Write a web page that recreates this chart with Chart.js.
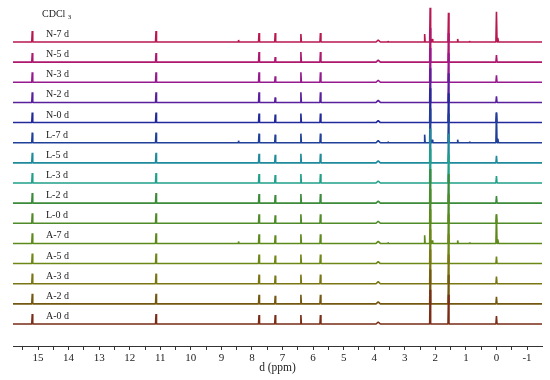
<!DOCTYPE html>
<html>
<head>
<meta charset="utf-8">
<script src="https://cdn.jsdelivr.net/npm/chart.js"></script>
<style>
    html, body { margin: 0; padding: 0; background: #ffffff; }
    #wrap { width: 550px; height: 380px; }
</style>
</head>
<body>
<div id="wrap"><canvas id="nmr"></canvas></div>
<script>
// samples, bottom trace first
const samples = ['A-0 d', 'A-2 d', 'A-3 d', 'A-5 d', 'A-7 d', 'L-0 d', 'L-2 d', 'L-3 d',
                 'L-5 d', 'L-7 d', 'N-0 d', 'N-2 d', 'N-3 d', 'N-5 d', 'N-7 d'];
const colors = ['#7a2c16', '#745812', '#7b7614', '#6e8818', '#5e8a1c', '#4f8b28', '#3c8b3a', '#20a08a',
                '#1e8a9c', '#1f3f99', '#22299a', '#5a1f9c', '#961a8e', '#ae176e', '#b8174f'];

// chemical shifts of the common peaks (ppm)
const shiftPpm = [15.19, 11.14, 7.77, 7.24, 6.40, 5.76, 3.87, 2.17, 1.57, 0.00];
const peakWidth = [0.016, 0.016, 0.016, 0.016, 0.016, 0.016, 0.07, 0.016, 0.016, 0.018];

// peak heights per sample (same order as samples)
const peakHeights = [
    [10, 10, 9, 9, 9, 9, 2, 34, 29, 8],
    [10, 10, 9, 8, 9, 9, 2, 34, 29, 7],
    [10, 10, 9, 8, 9, 9, 2, 34, 29, 7],
    [10, 10, 9, 8, 9, 9, 2, 34, 29, 7],
    [10, 10, 9, 8, 9, 9, 2, 34, 29, 29],
    [10, 10, 9, 8, 9, 9, 2, 34, 29, 9],
    [10, 10, 9, 8, 9, 9, 2, 34, 29, 7],
    [10, 10, 9, 8, 9, 9, 2, 34, 29, 7],
    [10, 10, 9, 8, 9, 9, 2, 34, 29, 7],
    [10, 10, 9, 8, 9, 9, 2, 34, 29, 30],
    [10, 10, 9, 8, 9, 9, 2, 34, 29, 10],
    [10, 10, 10, 5, 10, 10, 2, 34, 29, 6],
    [10, 10, 10, 6, 10, 10, 2, 34, 29, 7],
    [9, 9, 10, 5, 10, 10, 2, 34, 29, 7],
    [11, 11, 9, 9, 8, 9, 2, 34, 29, 30]
];

// extra small peaks seen only in the 7 d samples
const agedSamples = ['A-7 d', 'L-7 d', 'N-7 d'];
const agedPpm = [8.44, 3.55, 2.35, 2.10, 1.27, 0.88, -0.05];
const agedHeights = [2, 1, 8, 3, 3, 1, 4];

const xTicks = [15, 14, 13, 12, 11, 10, 9, 8, 7, 6, 5, 4, 3, 2, 1, 0, -1];
const ppmMax = 15.82;
const ppmMin = -1.49;
const traceStep = 20; // vertical offset between stacked traces

function buildTrace(index) {
    const base = index * traceStep;
    let peaks = shiftPpm.map((p, k) => ({ ppm: p, h: peakHeights[index][k], w: peakWidth[k] }));
    if (agedSamples.includes(samples[index])) {
        agedPpm.forEach((p, k) => peaks.push({ ppm: p, h: agedHeights[k], w: 0.016 }));
    }
    peaks.sort((a, b) => b.ppm - a.ppm);

    const pts = [{ x: ppmMax, y: base }];
    peaks.forEach(pk => {
        pts.push({ x: pk.ppm + pk.w, y: base });
        pts.push({ x: pk.ppm, y: base + pk.h });
        pts.push({ x: pk.ppm - pk.w, y: base });
    });
    pts.push({ x: ppmMin, y: base });
    return pts;
}

const datasets = samples.map((name, i) => ({
    label: name,
    data: buildTrace(i),
    borderColor: colors[i],
    borderWidth: 1.6,
    borderJoinStyle: 'bevel',
    pointRadius: 0,
    tension: 0,
    fill: false
}));

// sample names and solvent label
const traceLabels = {
    id: 'traceLabels',
    afterDatasetsDraw(chart) {
        const ctx = chart.ctx;
        const xs = chart.scales.x;
        const ys = chart.scales.y;
        const left = xs.getPixelForValue(14.74);
        ctx.save();
        ctx.fillStyle = '#222';
        ctx.textAlign = 'left';
        ctx.textBaseline = 'alphabetic';
        ctx.font = '10px "Liberation Serif", "Times New Roman", serif';
        samples.forEach((name, i) => {
            ctx.fillText(name, left, ys.getPixelForValue(i * traceStep) - 5);
        });
        const cx = xs.getPixelForValue(14.87);
        const cy = ys.getPixelForValue((samples.length - 1) * traceStep + 25);
        ctx.fillText('CDCl', cx, cy);
        const w = ctx.measureText('CDCl ').width;
        ctx.font = '7px "Liberation Serif", "Times New Roman", serif';
        ctx.fillText('3', cx + w, cy + 2);
        ctx.restore();
    }
};

new Chart(document.getElementById('nmr'), {
    type: 'line',
    data: { datasets: datasets },
    options: {
        responsive: true,
        maintainAspectRatio: false,
        animation: false,
        layout: { padding: { left: 13, right: 8, top: 4, bottom: 4 } },
        plugins: {
            legend: { display: false },
            tooltip: { enabled: false }
        },
        scales: {
            x: {
                type: 'linear',
                reverse: true,
                min: ppmMin,
                max: ppmMax,
                afterFit(scale) { scale.height = 30; },
                border: { display: true, color: '#333', width: 1 },
                grid: { drawOnChartArea: false, color: '#333', tickLength: 4 },
                ticks: {
                    stepSize: 0.5,
                    includeBounds: false,
                    autoSkip: false,
                    maxRotation: 0,
                    padding: 2,
                    color: '#222',
                    font: { family: '"Liberation Serif", serif', size: 11 },
                    callback: v => xTicks.includes(v) ? String(v) : ''
                },
                title: {
                    display: true,
                    text: 'd (ppm)',
                    color: '#222',
                    padding: { top: 0, bottom: 1 },
                    font: { family: '"Liberation Serif", serif', size: 11.5 }
                }
            },
            y: {
                type: 'linear',
                display: false,
                min: -21.84,
                max: 317.73
            }
        }
    },
    plugins: [traceLabels]
});
</script>
</body>
</html>
